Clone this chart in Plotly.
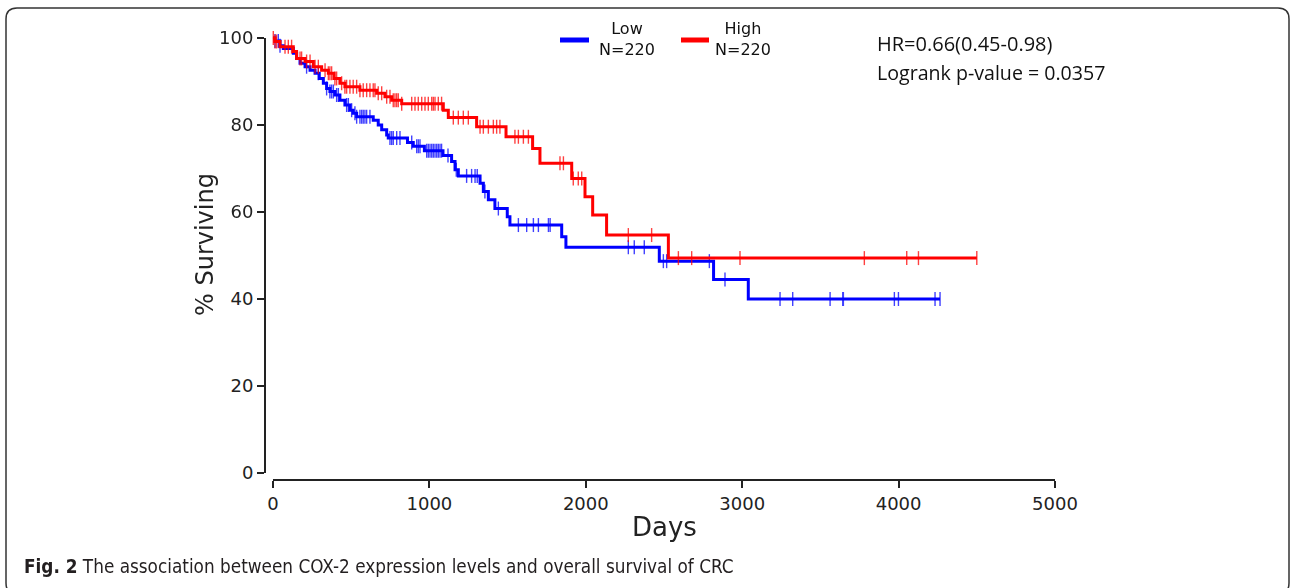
import numpy as np
import plotly.graph_objects as go

# ---- data (days, % surviving) ----
low_days = [0, 13, 45, 66, 130, 151, 173, 205, 237, 269, 296, 322, 343, 364, 396, 428, 460, 492, 513, 535,
            641, 673, 695, 727, 737, 860, 897, 968, 1087, 1142, 1164, 1185, 1324, 1345, 1377, 1419, 1498, 1515,
            1846, 1873, 2470, 2817, 3039, 4265]
low_surv = [100, 99.3, 98.2, 97.6, 96.5, 95.3, 94.2, 93.4, 92.6, 91.9, 90.7, 89.6, 88.4, 87.7, 86.9, 85.7, 84.6,
            83.4, 82.7, 81.9, 81.1, 80.0, 78.9, 77.7, 77.0, 76.0, 75.1, 74.1, 73.0, 71.6, 69.7, 68.3, 66.6, 64.7,
            62.8, 60.8, 58.9, 57.0, 54.3, 51.9, 48.7, 44.5, 40.0, 40.0]
high_days = [0, 12, 45, 130, 151, 205, 258, 311, 354, 390, 428, 460, 556, 663, 716, 759, 823, 1089, 1121, 1302,
             1490, 1660, 1707, 1910, 1995, 2044, 2133, 2528, 4500]
high_surv = [100, 99.2, 98.0, 96.9, 95.3, 94.6, 93.4, 92.6, 91.9, 90.7, 89.6, 88.8, 88.0, 87.3, 86.5, 85.7, 84.9,
             83.4, 81.7, 79.6, 77.3, 74.6, 71.2, 67.7, 63.5, 59.3, 54.7, 49.4, 49.4]

low_censor = [13, 34, 45, 215, 290, 343, 364, 375, 386, 407, 418, 471, 482, 503, 524, 535, 556, 567, 577, 588, 599,
              620, 748, 759, 769, 791, 812, 887, 919, 929, 940, 983, 993, 1004, 1015, 1025, 1036, 1047, 1057, 1068,
              1078, 1119, 1172, 1238, 1270, 1292, 1306, 1355, 1441, 1569, 1622, 1665, 1697, 1761, 1772, 2272, 2310,
              2374, 2496, 2517, 2790, 2890, 3242, 3323, 3562, 3643, 3647, 3973, 3999, 4233, 4265]
high_censor = [2, 13, 23, 77, 98, 119, 173, 183, 215, 237, 269, 290, 333, 354, 364, 375, 396, 407, 439, 460, 471,
               492, 513, 535, 556, 577, 599, 620, 641, 652, 673, 695, 727, 748, 769, 780, 791, 801, 823, 887, 908,
               929, 951, 972, 993, 1015, 1025, 1036, 1057, 1078, 1153, 1185, 1217, 1249, 1324, 1345, 1377, 1409,
               1430, 1451, 1547, 1569, 1601, 1633, 1835, 1857, 1920, 1952, 1974, 2272, 2421, 2592, 2677, 2986,
               3781, 4052, 4127, 4500]

x_ticks = [0, 1000, 2000, 3000, 4000, 5000]
y_ticks = [0, 20, 40, 60, 80, 100]
groups = [("Low", 220, "#0000ff"), ("High", 220, "#ff0000")]
hr_text = "HR=0.66(0.45-0.98)"
p_text = "Logrank p-value = 0.0357"
caption_bold = "Fig. 2"
caption_rest = "The association between COX-2 expression levels and overall survival of CRC"


def step_at(days, surv, t):
    d = np.asarray(days)
    s = np.asarray(surv)
    idx = np.searchsorted(d, t, side="right") - 1
    return s[np.clip(idx, 0, len(s) - 1)]


# ---- layout geometry (pixels) ----
FW, FH = 1290, 588
L, R, T, B = 265, 1055, 30, 480
PW, PH = R - L, B - T


def px(x):
    return (x - L) / PW


def py(y):
    return (B - y) / PH


fig = go.Figure()
series = [(low_days, low_surv, low_censor), (high_days, high_surv, high_censor)]
for (name, n, col), (d, s, c) in zip(groups, series):
    fig.add_trace(go.Scatter(x=d, y=s, mode="lines", line=dict(color=col, width=3, shape="hv"),
                             showlegend=False, cliponaxis=False, hoverinfo="skip"))
    fig.add_trace(go.Scatter(x=c, y=step_at(d, s, c), mode="markers",
                             marker=dict(symbol="line-ns", size=10, color=col,
                                         line=dict(color=col, width=1.4)),
                             opacity=0.75, showlegend=False, cliponaxis=False, hoverinfo="skip"))

axis_col = "#222222"
tick_font = dict(family="DejaVu Sans", size=18, color=axis_col)
fig.update_xaxes(range=[-51, 5000], tickvals=x_ticks, ticktext=[str(v) for v in x_ticks],
                 ticks="outside", ticklen=7, tickwidth=2, tickcolor=axis_col,
                 showline=False, showgrid=False, zeroline=False, tickfont=tick_font)
fig.update_yaxes(range=[-1.61, 101.84], tickvals=y_ticks, ticktext=[str(v) for v in y_ticks],
                 ticks="outside", ticklen=7, tickwidth=2, tickcolor=axis_col,
                 showline=False, showgrid=False, zeroline=False, tickfont=tick_font)

shapes = [
    # offset axis lines
    dict(type="line", xref="paper", yref="y", x0=0, x1=0, y0=0, y1=100, line=dict(color=axis_col, width=2)),
    dict(type="line", xref="x", yref="paper", x0=0, x1=5000, y0=0, y1=0, line=dict(color=axis_col, width=2)),
]
# legend swatches
sw = [(560, 589, 40), (681, 709, 40)]
for (x0, x1, yy), (name, n, col) in zip(sw, groups):
    shapes.append(dict(type="line", xref="paper", yref="paper", x0=px(x0), x1=px(x1), y0=py(yy), y1=py(yy),
                       line=dict(color=col, width=5)))

# rounded frame
fl, ft, fr, fb, rad = 6, 8, 1289, 594, 11
path = (f"M {px(fl)},{py(fb - rad)} L {px(fl)},{py(ft + rad)} Q {px(fl)},{py(ft)} {px(fl + rad)},{py(ft)} "
        f"L {px(fr - rad)},{py(ft)} Q {px(fr)},{py(ft)} {px(fr)},{py(ft + rad)} "
        f"L {px(fr)},{py(fb - rad)} Q {px(fr)},{py(fb)} {px(fr - rad)},{py(fb)} "
        f"L {px(fl + rad)},{py(fb)} Q {px(fl)},{py(fb)} {px(fl)},{py(fb - rad)} Z")
shapes.append(dict(type="path", xref="paper", yref="paper", path=path, line=dict(color="#333333", width=1.5),
                   layer="above"))

annotations = []
leg_x = [627, 743]
for lx, (name, n, col) in zip(leg_x, groups):
    annotations.append(dict(x=px(lx), y=py(39), xref="paper", yref="paper", showarrow=False,
                            text=f"{name}<br>N={n}", align="center", xanchor="center", yanchor="middle",
                            font=dict(family="DejaVu Sans", size=16, color="#111111")))
annotations.append(dict(x=px(875), y=py(44), xref="paper", yref="paper", showarrow=False, text=hr_text,
                        xanchor="left", yanchor="middle", font=dict(family="Open Sans", size=20, color="#111111")))
annotations.append(dict(x=px(875), y=py(73), xref="paper", yref="paper", showarrow=False, text=p_text,
                        xanchor="left", yanchor="middle", font=dict(family="Open Sans", size=19.6, color="#111111")))
annotations.append(dict(x=px(664), y=py(527), xref="paper", yref="paper", showarrow=False, text="Days",
                        xanchor="center", yanchor="middle", font=dict(family="DejaVu Sans", size=26, color=axis_col)))
annotations.append(dict(x=px(205), y=py(245), xref="paper", yref="paper", showarrow=False, text="% Surviving",
                        textangle=-90, xanchor="center", yanchor="middle",
                        font=dict(family="DejaVu Sans", size=24, color=axis_col)))
annotations.append(dict(x=px(22), y=py(566), xref="paper", yref="paper", showarrow=False,
                        text=f"<b>{caption_bold}</b> {caption_rest}", xanchor="left", yanchor="middle",
                        font=dict(family="Liberation Sans Narrow, DejaVu Sans Condensed, sans-serif", size=18.8,
                                  color="#231f20")))

fig.update_layout(width=FW, height=FH, margin=dict(l=L, r=FW - R, t=T, b=FH - B, pad=0),
                  paper_bgcolor="white", plot_bgcolor="white", shapes=shapes, annotations=annotations,
                  showlegend=False)
fig.write_html("out.html", config={"displayModeBar": False},
               post_script="document.body.style.margin='0';document.body.style.overflow='hidden';")
